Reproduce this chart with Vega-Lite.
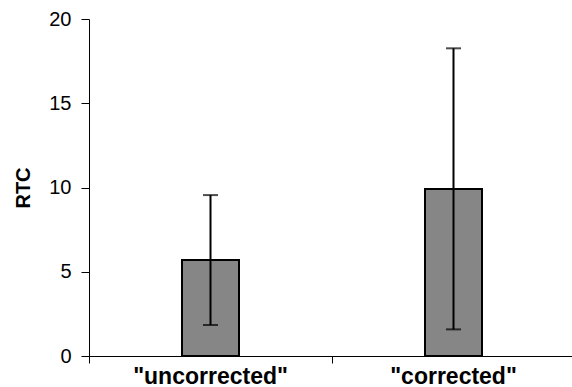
{
  "$schema": "https://vega.github.io/schema/vega-lite/v6.json",
  "width": 486,
  "height": 337,
  "autosize": {"type": "none"},
  "padding": {"left": 89, "top": 19, "right": 0, "bottom": 31},
  "background": "white",
  "config": {
    "view": {"stroke": null},
    "font": "Liberation Sans"
  },
  "data": {
    "values": [
      {"group": "\"uncorrected\"", "rtc": 5.7, "lo": 1.84, "hi": 9.55},
      {"group": "\"corrected\"", "rtc": 9.91, "lo": 1.58, "hi": 18.26}
    ]
  },
  "encoding": {
    "x": {
      "field": "group",
      "type": "nominal",
      "sort": null,
      "scale": {"paddingInner": 0, "paddingOuter": 0},
      "axis": {
        "title": null,
        "labelAngle": 0,
        "labelFont": "Liberation Sans",
        "labelFontSize": 23,
        "labelFontWeight": "bold",
        "labelColor": "black",
        "labelPadding": 2,
        "domainColor": "black",
        "domainWidth": 1,
        "tickColor": "black",
        "tickSize": 7,
        "tickWidth": 1,
        "bandPosition": 0,
        "grid": false
      }
    }
  },
  "layer": [
    {
      "mark": {"type": "bar", "size": 57, "fill": "#868686", "stroke": "black", "strokeWidth": 2},
      "encoding": {
        "y": {
          "field": "rtc",
          "type": "quantitative",
          "scale": {"domain": [0, 20], "nice": false},
          "axis": {
            "title": "RTC",
            "titleFont": "Liberation Sans",
            "titleFontSize": 20,
            "titleFontWeight": "bold",
            "titleColor": "black",
            "titlePadding": 15,
            "values": [0, 5, 10, 15, 20],
            "labelFont": "Liberation Sans",
            "labelFontSize": 20,
            "labelColor": "black",
            "labelPadding": 10,
            "domainColor": "black",
            "tickColor": "black",
            "tickSize": 8,
            "grid": false
          }
        }
      }
    },
    {
      "mark": {"type": "rule", "color": "black", "strokeWidth": 2},
      "encoding": {
        "y": {"field": "lo", "type": "quantitative"},
        "y2": {"field": "hi"}
      }
    },
    {
      "mark": {"type": "tick", "color": "black", "size": 15, "thickness": 2, "orient": "horizontal"},
      "encoding": {
        "y": {"field": "lo", "type": "quantitative"}
      }
    },
    {
      "mark": {"type": "tick", "color": "black", "size": 15, "thickness": 2, "orient": "horizontal"},
      "encoding": {
        "y": {"field": "hi", "type": "quantitative"}
      }
    }
  ]
}
